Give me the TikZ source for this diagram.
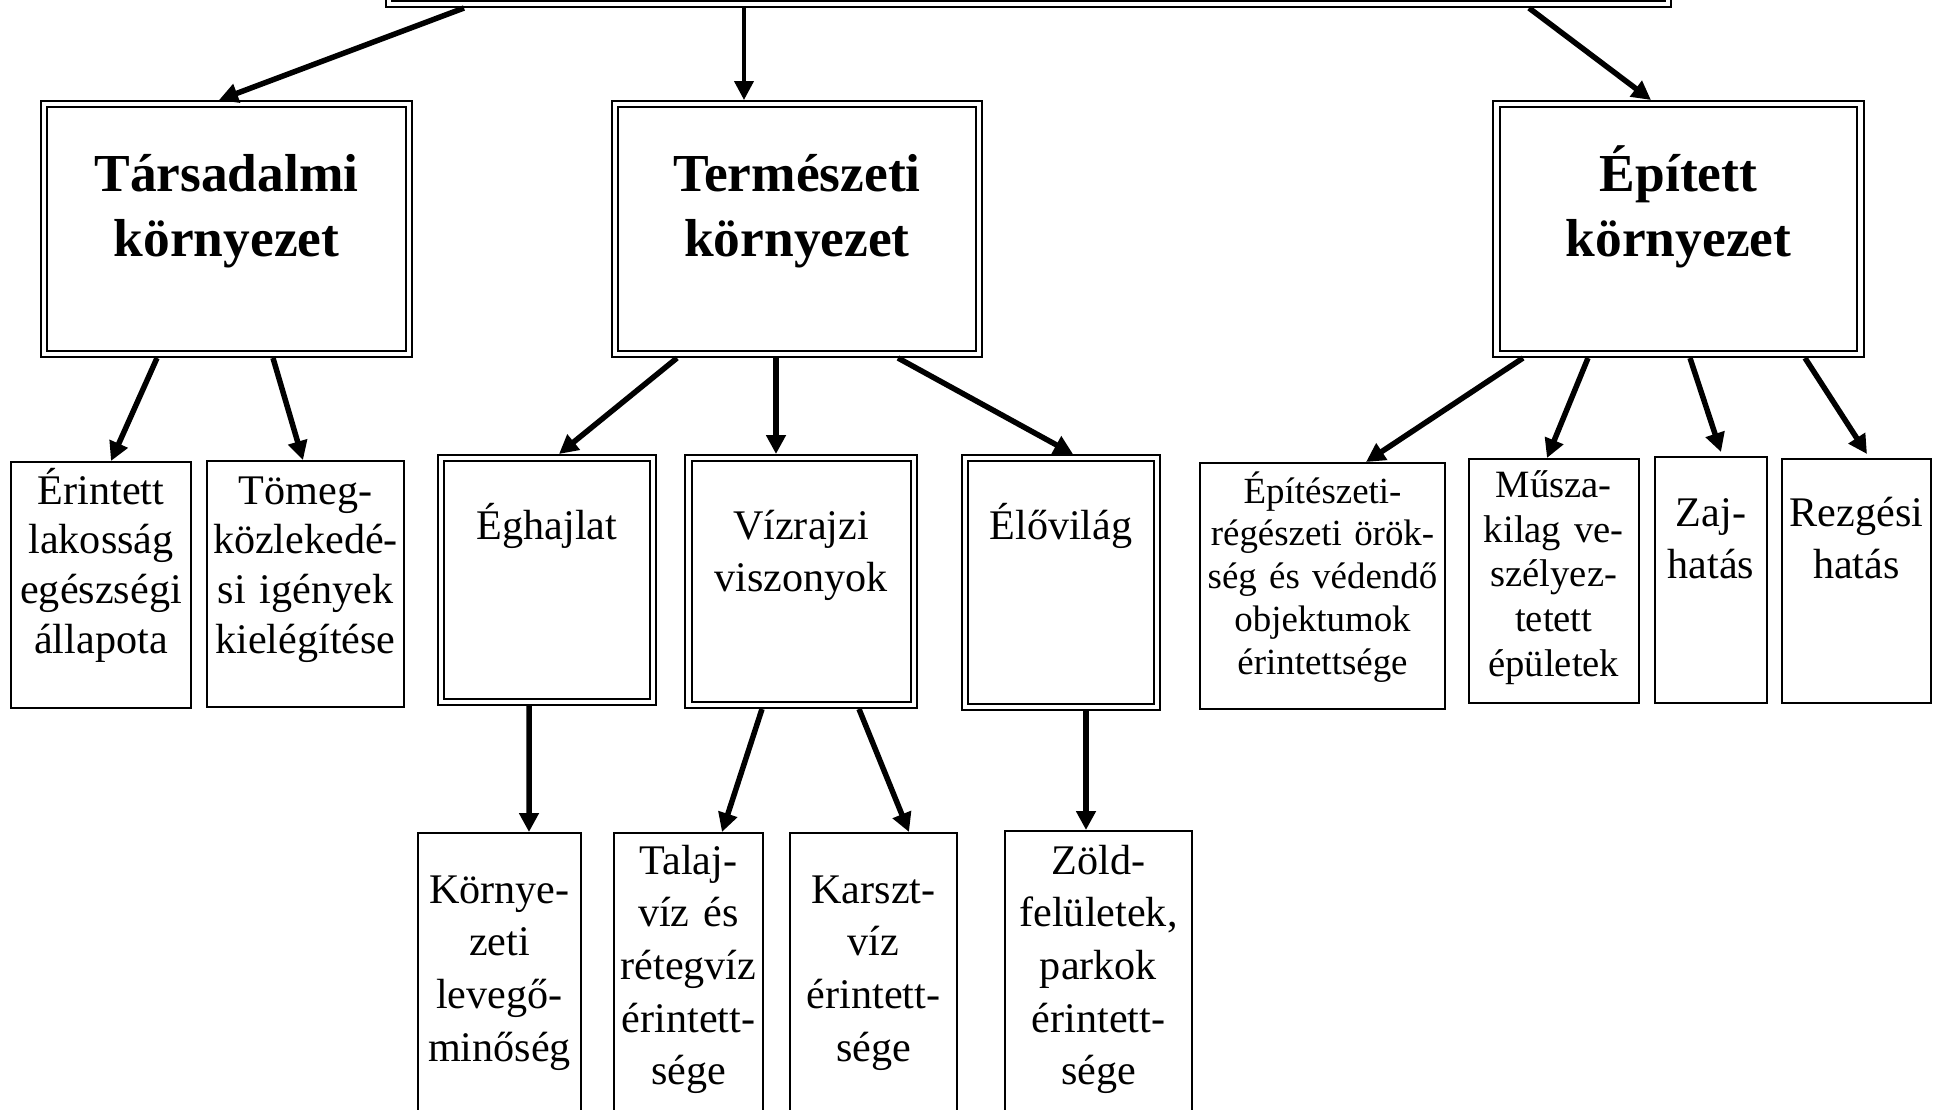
\documentclass[tikz,border=0pt]{standalone}
\usepackage{fontspec}
\setmainfont{Liberation Serif}
\usetikzlibrary{arrows.meta, calc}
\tikzset{bigbox/.style={draw, double, double distance=0.45mm, line width=0.2mm, inner sep=0pt, anchor=north, align=center, font=\fontsize{15.2}{18.5}\selectfont\bfseries, text height=8.7mm, text depth=16.3mm},
        subbox/.style={draw, double, double distance=0.45mm, line width=0.2mm, inner sep=0pt, anchor=north, align=center, font=\fontsize{12}{14.8}\selectfont, text height=8.1mm, text depth=16.4mm},
        leafbox/.style={draw, line width=0.2mm, inner sep=0pt, anchor=north, align=center, font=\fontsize{12}{14.2}\selectfont},
        arr/.style={line width=0.55mm, -{Triangle[length=1.9mm, width=1.9mm]}}}

\begin{document}
\begin{tikzpicture}[x=0.1mm, y=-0.1mm]
    \useasboundingbox (0,0) rectangle (1934,1109);
    % only the lower edge of the top box is in view
    \node[draw, double, double distance=0.45mm, line width=0.2mm, anchor=south, minimum width=127.9mm, minimum height=9mm] (korny) at (1028.5,5) {};

    % first level
    \node[bigbox, text width=36.5mm] (tars) at (226.5,103) {Társadalmi\\környezet};
    \node[bigbox, text width=36.4mm] (term) at (797,103) {Természeti\\környezet};
    \node[bigbox, text width=36.4mm] (epit) at (1678.5,103) {Épített\\környezet};

    % second level
    \node[leafbox, text width=18mm, text height=4.2mm, text depth=20.4mm] (erint) at (101,461) {Érintett\\lakosság\\egészségi\\állapota};
    \node[leafbox, text width=19.7mm, text height=4.3mm, text depth=20.3mm] (tomeg) at (305.5,460) {Tömeg-\\közlekedé-\\si igények\\kielégítése};

    \node[subbox, text width=21.2mm, text depth=16.3mm] (eghajlat) at (547,457) {Éghajlat};
    \node[subbox, text width=22.55mm, text depth=16.6mm] (vizrajz) at (801,457) {Vízrajzi\\viszonyok};
    \node[subbox, text width=19.2mm, text depth=16.8mm] (elovilag) at (1061,457) {Élővilág};

    \node[leafbox, font=\fontsize{10.5}{12.2}\selectfont, text width=24.5mm, text height=4mm, text depth=20.6mm] (epiteszeti) at (1322.5,462) {Építészeti-\\régészeti örök-\\ség és védendő\\objektumok\\érintettsége};
    \node[leafbox, font=\fontsize{11}{12.8}\selectfont, text width=17.05mm, text height=3.8mm, text depth=20.6mm] (muszaki) at (1553.75,458) {Műsza-\\kilag ve-\\szélyez-\\tetett\\épületek};
    \node[leafbox, font=\fontsize{12}{14.8}\selectfont, text width=11.2mm, text height=6.9mm, text depth=17.7mm] (zaj) at (1711,456) {Zaj-\\hatás};
    \node[leafbox, font=\fontsize{12}{14.8}\selectfont, text width=14.9mm, text height=6.7mm, text depth=17.7mm] (rezges) at (1856.5,458) {Rezgési\\hatás};

    % third level, cut by the lower edge
    \node[leafbox, font=\fontsize{12}{15}\selectfont, text width=16.3mm, text height=7mm, text depth=21.3mm] (levego) at (499.5,832) {Környe-\\zeti\\levegő-\\minőség};
    \node[leafbox, font=\fontsize{12}{15}\selectfont, text width=14.9mm, text height=4.1mm, text depth=24.2mm] (talajviz) at (688.5,832) {Talaj-\\víz és\\rétegvíz\\érintett-\\sége};
    \node[leafbox, font=\fontsize{12}{15}\selectfont, text width=16.7mm, text height=7mm, text depth=21.3mm] (karszt) at (873.5,832) {Karszt-\\víz\\érintett-\\sége};
    \node[leafbox, font=\fontsize{12}{15}\selectfont, text width=18.7mm, text height=4.3mm, text depth=24.2mm] (zold) at (1098.5,830) {Zöld-\\felületek,\\parkok\\érintett-\\sége};

    % connectors
    \draw[arr] ($(korny.south)+(-564.5,3)$) -- ($(tars.north)+(-7.5,-3)$);
    \draw[arr, line width=0.4mm] ($(korny.south)+(-284.5,3)$) -- ($(term.north)+(-53,-3)$);
    \draw[arr] ($(korny.south)+(500.5,3)$) -- ($(epit.north)+(-27.5,-3)$);

    \foreach \from/\dx/\to/\ex/\ey in {tars/-69.5/erint/10/0, tars/46.5/tomeg/-2.5/0,
            term/-120/eghajlat/12/-3, term/-21/vizrajz/-25/-3, term/101/elovilag/12/-3,
            epit/-155.5/epiteszeti/43.5/0, epit/-90.5/muszaki/-6.75/0, epit/11.5/zaj/10/-4, epit/126.5/rezges/10.5/-4,
            eghajlat/-18/levego/29.5/0, vizrajz/-39/talajviz/33.5/0, vizrajz/58/karszt/35.5/0, elovilag/25/zold/-12.5/0} {
        \draw[arr] ($(\from.south)+(\dx,3)$) -- ($(\to.north)+(\ex,\ey)$);
    }
\end{tikzpicture}
\end{document}
